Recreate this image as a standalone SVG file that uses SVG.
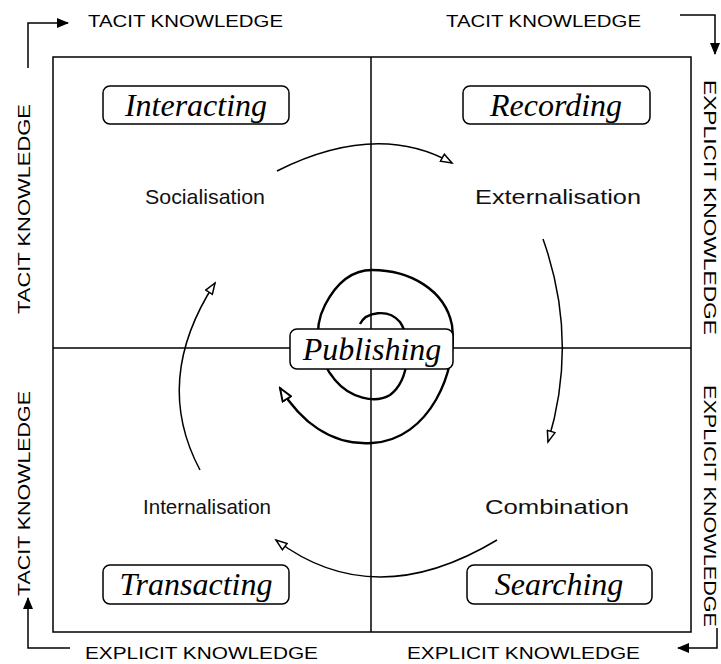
<svg xmlns="http://www.w3.org/2000/svg" width="721" height="664" viewBox="0 0 721 664">
<style>
.edge{font-family:"Liberation Sans",Arial,sans-serif;font-size:16px;fill:#000}
.proc{font-family:"Liberation Sans",Arial,sans-serif;font-size:21px;fill:#111;text-anchor:middle}
.mode{font-family:"Liberation Serif","Times New Roman",serif;font-style:italic;font-size:32px;fill:#000;text-anchor:middle}
.box{fill:#fff;stroke:#000;stroke-width:1.5}
.ln{fill:none;stroke:#000;stroke-width:1.5}
.arc{fill:none;stroke:#000;stroke-width:1.5;marker-end:url(#open)}
</style>
<defs>
<marker id="open" viewBox="0 0 14 10" refX="12" refY="5" markerWidth="14" markerHeight="10" markerUnits="userSpaceOnUse" orient="auto">
<path d="M1,1 L12,5 L1,9 z" fill="#fff" stroke="#000" stroke-width="1.5"/>
</marker>
<marker id="openbig" viewBox="0 0 16 12" refX="14" refY="6" markerWidth="16" markerHeight="12" markerUnits="userSpaceOnUse" orient="auto">
<path d="M1,1 L14,6 L1,11 z" fill="#fff" stroke="#000" stroke-width="2"/>
</marker>
<marker id="solid" viewBox="0 0 12 10" refX="11" refY="5" markerWidth="12" markerHeight="10" markerUnits="userSpaceOnUse" orient="auto">
<path d="M0,0 L12,5 L0,10 z" fill="#000"/>
</marker>
</defs>
<rect width="721" height="664" fill="#fff"/>

<g id="frame">
<rect class="ln" x="53" y="57" width="638" height="575"/>
<line class="ln" x1="371" y1="57" x2="371" y2="632"/>
<line class="ln" x1="53" y1="348" x2="691" y2="348"/>
</g>

<g id="edge-labels">
<text class="edge" x="88" y="27" textLength="195" lengthAdjust="spacingAndGlyphs">TACIT KNOWLEDGE</text>
<text class="edge" x="446" y="27" textLength="195" lengthAdjust="spacingAndGlyphs">TACIT KNOWLEDGE</text>
<text class="edge" x="85" y="659" textLength="233" lengthAdjust="spacingAndGlyphs">EXPLICIT KNOWLEDGE</text>
<text class="edge" x="407" y="659" textLength="233" lengthAdjust="spacingAndGlyphs">EXPLICIT KNOWLEDGE</text>
<text class="edge" transform="translate(30,314) rotate(-90)" textLength="210" lengthAdjust="spacingAndGlyphs">TACIT KNOWLEDGE</text>
<text class="edge" transform="translate(30,596) rotate(-90)" textLength="205" lengthAdjust="spacingAndGlyphs">TACIT KNOWLEDGE</text>
<text class="edge" transform="translate(704,80) rotate(90)" textLength="255" lengthAdjust="spacingAndGlyphs">EXPLICIT KNOWLEDGE</text>
<text class="edge" transform="translate(704,385) rotate(90)" textLength="242" lengthAdjust="spacingAndGlyphs">EXPLICIT KNOWLEDGE</text>
</g>

<g id="connectors">
<path class="ln" d="M28,68 V23 H68" marker-end="url(#solid)"/>
<path class="ln" d="M680,15 H715 V54" marker-end="url(#solid)"/>
<path class="ln" d="M717,628 V648 H678" marker-end="url(#solid)"/>
<path class="ln" d="M70,648 H28 V598" marker-end="url(#solid)"/>
<path class="arc" d="M277,171 Q377,121 452,163"/>
<path class="arc" d="M543,239 Q579,340 548,442"/>
<path class="arc" d="M497,540 Q374,614 276,540"/>
<path class="arc" d="M200,470 Q152,380 215,283"/>
<path d="M360,324 C366,312 388,308 400,322 C412,340 410,380 390,395 C375,404 350,398 335,380 C318,360 312,330 325,305 C338,280 355,270 372,270 C410,270 445,290 452,325 C458,370 430,440 372,443 C330,446 300,420 280,388" fill="none" stroke="#000" stroke-width="2.4" marker-end="url(#openbig)"/>
</g>

<g id="interacting"><rect class="box" x="103" y="86" width="186" height="38" rx="7"/><text class="mode" x="196" y="116">Interacting</text></g>
<g id="recording"><rect class="box" x="463" y="86" width="187" height="38" rx="7"/><text class="mode" x="556" y="116">Recording</text></g>
<g id="transacting"><rect class="box" x="103" y="565" width="186" height="39" rx="7"/><text class="mode" x="196" y="595">Transacting</text></g>
<g id="searching"><rect class="box" x="467" y="565" width="185" height="39" rx="7"/><text class="mode" x="559" y="595">Searching</text></g>
<g id="publishing"><rect class="box" x="290" y="329" width="163" height="40" rx="7"/><text class="mode" x="372" y="360">Publishing</text></g>

<g id="socialisation"><text class="proc" x="205" y="204" textLength="120" lengthAdjust="spacingAndGlyphs">Socialisation</text></g>
<g id="externalisation"><text class="proc" x="558" y="204" textLength="166" lengthAdjust="spacingAndGlyphs">Externalisation</text></g>
<g id="internalisation"><text class="proc" x="207" y="514" textLength="128" lengthAdjust="spacingAndGlyphs">Internalisation</text></g>
<g id="combination"><text class="proc" x="557" y="514" textLength="144" lengthAdjust="spacingAndGlyphs">Combination</text></g>
</svg>
